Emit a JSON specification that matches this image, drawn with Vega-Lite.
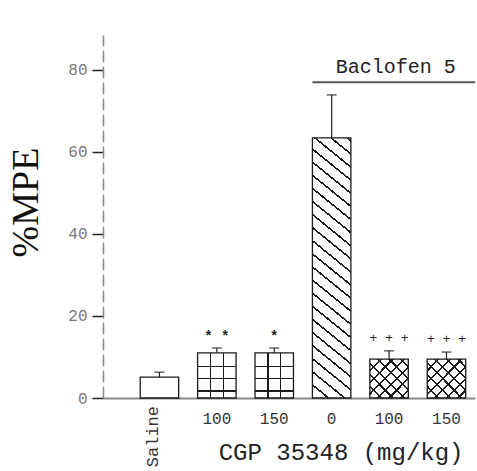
{
  "$schema": "https://vega.github.io/schema/vega-lite/v6.json",
  "width": 372,
  "height": 363,
  "autosize": "none",
  "padding": {"left": 103, "top": 35, "right": 2, "bottom": 73},
  "background": "white",
  "config": {"view": {"stroke": null}},
  "data": {
    "values": [
      {"key": "S", "label": "Saline", "group": "saline", "value": 5.1, "err": 6.3, "sig": ""},
      {"key": "C100", "label": "100", "group": "cgp", "value": 11.0, "err": 12.2, "sig": "* *"},
      {"key": "C150", "label": "150", "group": "cgp", "value": 11.0, "err": 12.2, "sig": "*"},
      {"key": "B0", "label": "0", "group": "baclofen", "value": 63.4, "err": 73.9, "sig": ""},
      {"key": "B100", "label": "100", "group": "baclofen_cgp", "value": 9.5, "err": 11.5, "sig": "+ + +"},
      {"key": "B150", "label": "150", "group": "baclofen_cgp", "value": 9.5, "err": 11.2, "sig": "+ + +"}
    ]
  },
  "encoding": {
    "x": {
      "field": "key",
      "type": "nominal",
      "sort": null,
      "scale": {"paddingInner": 0.33, "paddingOuter": 0.405, "align": 0.8},
      "axis": {
        "title": "CGP 35348 (mg/kg)",
        "titleFont": "Liberation Mono",
        "titleFontSize": 24,
        "titleFontWeight": "normal",
        "titleColor": "#222",
        "titleAnchor": "end",
        "titleX": 360,
        "titleY": 61,
        "titleBaseline": "alphabetic",
        "labelExpr": "datum.value == 'S' ? '' : slice(datum.value, 1)",
        "labelFont": "Liberation Mono",
        "labelFontSize": 16,
        "labelColor": "#333",
        "labelPadding": 12,
        "labelAngle": 0,
        "labelAlign": "center",
        "labelBaseline": "top",
        "ticks": false,
        "domainColor": "#888",
        "domainWidth": 2
      }
    },
    "y": {
      "field": "value",
      "type": "quantitative",
      "scale": {"domain": [0, 88.5], "nice": false},
      "axis": {
        "title": "%MPE",
        "titleFont": "Liberation Serif",
        "titleFontSize": 38,
        "titleFontWeight": "normal",
        "titleColor": "#111",
        "titleX": -77,
        "titleY": 167,
        "titleAngle": -90,
        "titleAlign": "center",
        "titleBaseline": "middle",
        "values": [0, 20, 40, 60, 80],
        "grid": false,
        "tickSize": 11,
        "tickWidth": 1.5,
        "tickColor": "#222",
        "labelFont": "Liberation Mono",
        "labelFontSize": 16,
        "labelColor": "#777",
        "labelPadding": 5,
        "domainColor": "#888",
        "domainWidth": 1.5,
        "domainDash": [12, 4],
        "encoding": {
          "ticks": {"update": {"x2": {"value": 11}}}
        }
      }
    }
  },
  "layer": [
    {"mark": {"type": "bar", "fill": "white", "stroke": "#1a1a1a", "strokeWidth": 1.3}},
    {
      "transform": [{"filter": "datum.group == 'cgp'"}],
      "mark": {"type": "bar", "strokeOpacity": 0, "fill": {"gradient": "linear", "x1": 0, "y1": 0, "x2": 0, "y2": 1, "stops": [
        {"offset": 0.284, "color": "rgba(0,0,0,0)"}, {"offset": 0.284, "color": "#1a1a1a"}, {"offset": 0.316, "color": "#1a1a1a"}, {"offset": 0.316, "color": "rgba(0,0,0,0)"},
        {"offset": 0.554, "color": "rgba(0,0,0,0)"}, {"offset": 0.554, "color": "#1a1a1a"}, {"offset": 0.586, "color": "#1a1a1a"}, {"offset": 0.586, "color": "rgba(0,0,0,0)"},
        {"offset": 0.824, "color": "rgba(0,0,0,0)"}, {"offset": 0.824, "color": "#1a1a1a"}, {"offset": 0.856, "color": "#1a1a1a"}, {"offset": 0.856, "color": "rgba(0,0,0,0)"}
      ]}}
    },
    {
      "transform": [{"filter": "datum.group == 'cgp'"}],
      "mark": {"type": "bar", "strokeOpacity": 0, "fill": {"gradient": "linear", "x1": 0, "y1": 0, "x2": 1, "y2": 0, "stops": [
        {"offset": 0.322, "color": "rgba(0,0,0,0)"}, {"offset": 0.322, "color": "#1a1a1a"}, {"offset": 0.358, "color": "#1a1a1a"}, {"offset": 0.358, "color": "rgba(0,0,0,0)"},
        {"offset": 0.652, "color": "rgba(0,0,0,0)"}, {"offset": 0.652, "color": "#1a1a1a"}, {"offset": 0.688, "color": "#1a1a1a"}, {"offset": 0.688, "color": "rgba(0,0,0,0)"}
      ]}}
    },
    {
      "transform": [{"filter": "datum.group == 'baclofen'"}],
      "mark": {"type": "bar", "strokeOpacity": 0, "fill": {"gradient": "linear", "x1": 0, "y1": 1, "x2": 0.1325, "y2": -0.104, "stops": [
        {"offset": 0.0415, "color": "rgba(0,0,0,0)"}, {"offset": 0.0415, "color": "#1a1a1a"}, {"offset": 0.0485, "color": "#1a1a1a"}, {"offset": 0.0485, "color": "rgba(0,0,0,0)"},
        {"offset": 0.0865, "color": "rgba(0,0,0,0)"}, {"offset": 0.0865, "color": "#1a1a1a"}, {"offset": 0.0935, "color": "#1a1a1a"}, {"offset": 0.0935, "color": "rgba(0,0,0,0)"},
        {"offset": 0.1315, "color": "rgba(0,0,0,0)"}, {"offset": 0.1315, "color": "#1a1a1a"}, {"offset": 0.1385, "color": "#1a1a1a"}, {"offset": 0.1385, "color": "rgba(0,0,0,0)"},
        {"offset": 0.1765, "color": "rgba(0,0,0,0)"}, {"offset": 0.1765, "color": "#1a1a1a"}, {"offset": 0.1835, "color": "#1a1a1a"}, {"offset": 0.1835, "color": "rgba(0,0,0,0)"},
        {"offset": 0.2215, "color": "rgba(0,0,0,0)"}, {"offset": 0.2215, "color": "#1a1a1a"}, {"offset": 0.2285, "color": "#1a1a1a"}, {"offset": 0.2285, "color": "rgba(0,0,0,0)"},
        {"offset": 0.2665, "color": "rgba(0,0,0,0)"}, {"offset": 0.2665, "color": "#1a1a1a"}, {"offset": 0.2735, "color": "#1a1a1a"}, {"offset": 0.2735, "color": "rgba(0,0,0,0)"},
        {"offset": 0.3115, "color": "rgba(0,0,0,0)"}, {"offset": 0.3115, "color": "#1a1a1a"}, {"offset": 0.3185, "color": "#1a1a1a"}, {"offset": 0.3185, "color": "rgba(0,0,0,0)"},
        {"offset": 0.3565, "color": "rgba(0,0,0,0)"}, {"offset": 0.3565, "color": "#1a1a1a"}, {"offset": 0.3635, "color": "#1a1a1a"}, {"offset": 0.3635, "color": "rgba(0,0,0,0)"},
        {"offset": 0.4015, "color": "rgba(0,0,0,0)"}, {"offset": 0.4015, "color": "#1a1a1a"}, {"offset": 0.4085, "color": "#1a1a1a"}, {"offset": 0.4085, "color": "rgba(0,0,0,0)"},
        {"offset": 0.4465, "color": "rgba(0,0,0,0)"}, {"offset": 0.4465, "color": "#1a1a1a"}, {"offset": 0.4535, "color": "#1a1a1a"}, {"offset": 0.4535, "color": "rgba(0,0,0,0)"},
        {"offset": 0.4915, "color": "rgba(0,0,0,0)"}, {"offset": 0.4915, "color": "#1a1a1a"}, {"offset": 0.4985, "color": "#1a1a1a"}, {"offset": 0.4985, "color": "rgba(0,0,0,0)"},
        {"offset": 0.5365, "color": "rgba(0,0,0,0)"}, {"offset": 0.5365, "color": "#1a1a1a"}, {"offset": 0.5435, "color": "#1a1a1a"}, {"offset": 0.5435, "color": "rgba(0,0,0,0)"},
        {"offset": 0.5815, "color": "rgba(0,0,0,0)"}, {"offset": 0.5815, "color": "#1a1a1a"}, {"offset": 0.5885, "color": "#1a1a1a"}, {"offset": 0.5885, "color": "rgba(0,0,0,0)"},
        {"offset": 0.6265, "color": "rgba(0,0,0,0)"}, {"offset": 0.6265, "color": "#1a1a1a"}, {"offset": 0.6335, "color": "#1a1a1a"}, {"offset": 0.6335, "color": "rgba(0,0,0,0)"},
        {"offset": 0.6715, "color": "rgba(0,0,0,0)"}, {"offset": 0.6715, "color": "#1a1a1a"}, {"offset": 0.6785, "color": "#1a1a1a"}, {"offset": 0.6785, "color": "rgba(0,0,0,0)"},
        {"offset": 0.7165, "color": "rgba(0,0,0,0)"}, {"offset": 0.7165, "color": "#1a1a1a"}, {"offset": 0.7235, "color": "#1a1a1a"}, {"offset": 0.7235, "color": "rgba(0,0,0,0)"},
        {"offset": 0.7615, "color": "rgba(0,0,0,0)"}, {"offset": 0.7615, "color": "#1a1a1a"}, {"offset": 0.7685, "color": "#1a1a1a"}, {"offset": 0.7685, "color": "rgba(0,0,0,0)"},
        {"offset": 0.8065, "color": "rgba(0,0,0,0)"}, {"offset": 0.8065, "color": "#1a1a1a"}, {"offset": 0.8135, "color": "#1a1a1a"}, {"offset": 0.8135, "color": "rgba(0,0,0,0)"},
        {"offset": 0.8515, "color": "rgba(0,0,0,0)"}, {"offset": 0.8515, "color": "#1a1a1a"}, {"offset": 0.8585, "color": "#1a1a1a"}, {"offset": 0.8585, "color": "rgba(0,0,0,0)"},
        {"offset": 0.8965, "color": "rgba(0,0,0,0)"}, {"offset": 0.8965, "color": "#1a1a1a"}, {"offset": 0.9035, "color": "#1a1a1a"}, {"offset": 0.9035, "color": "rgba(0,0,0,0)"},
        {"offset": 0.9415, "color": "rgba(0,0,0,0)"}, {"offset": 0.9415, "color": "#1a1a1a"}, {"offset": 0.9485, "color": "#1a1a1a"}, {"offset": 0.9485, "color": "rgba(0,0,0,0)"},
        {"offset": 0.9865, "color": "rgba(0,0,0,0)"}, {"offset": 0.9865, "color": "#1a1a1a"}, {"offset": 0.9935, "color": "#1a1a1a"}, {"offset": 0.9935, "color": "rgba(0,0,0,0)"}
      ]}}
    },
    {
      "transform": [{"filter": "datum.group == 'baclofen_cgp'"}],
      "mark": {"type": "bar", "strokeOpacity": 0, "fill": {"gradient": "linear", "x1": 0, "y1": 1, "x2": 1, "y2": 0, "stops": [
        {"offset": 0.136, "color": "rgba(0,0,0,0)"}, {"offset": 0.136, "color": "#1a1a1a"}, {"offset": 0.164, "color": "#1a1a1a"}, {"offset": 0.164, "color": "rgba(0,0,0,0)"},
        {"offset": 0.286, "color": "rgba(0,0,0,0)"}, {"offset": 0.286, "color": "#1a1a1a"}, {"offset": 0.314, "color": "#1a1a1a"}, {"offset": 0.314, "color": "rgba(0,0,0,0)"},
        {"offset": 0.436, "color": "rgba(0,0,0,0)"}, {"offset": 0.436, "color": "#1a1a1a"}, {"offset": 0.464, "color": "#1a1a1a"}, {"offset": 0.464, "color": "rgba(0,0,0,0)"},
        {"offset": 0.586, "color": "rgba(0,0,0,0)"}, {"offset": 0.586, "color": "#1a1a1a"}, {"offset": 0.614, "color": "#1a1a1a"}, {"offset": 0.614, "color": "rgba(0,0,0,0)"},
        {"offset": 0.736, "color": "rgba(0,0,0,0)"}, {"offset": 0.736, "color": "#1a1a1a"}, {"offset": 0.764, "color": "#1a1a1a"}, {"offset": 0.764, "color": "rgba(0,0,0,0)"},
        {"offset": 0.886, "color": "rgba(0,0,0,0)"}, {"offset": 0.886, "color": "#1a1a1a"}, {"offset": 0.914, "color": "#1a1a1a"}, {"offset": 0.914, "color": "rgba(0,0,0,0)"}
      ]}}
    },
    {
      "transform": [{"filter": "datum.group == 'baclofen_cgp'"}],
      "mark": {"type": "bar", "strokeOpacity": 0, "fill": {"gradient": "linear", "x1": 0, "y1": 0, "x2": 1, "y2": 1, "stops": [
        {"offset": 0.136, "color": "rgba(0,0,0,0)"}, {"offset": 0.136, "color": "#1a1a1a"}, {"offset": 0.164, "color": "#1a1a1a"}, {"offset": 0.164, "color": "rgba(0,0,0,0)"},
        {"offset": 0.286, "color": "rgba(0,0,0,0)"}, {"offset": 0.286, "color": "#1a1a1a"}, {"offset": 0.314, "color": "#1a1a1a"}, {"offset": 0.314, "color": "rgba(0,0,0,0)"},
        {"offset": 0.436, "color": "rgba(0,0,0,0)"}, {"offset": 0.436, "color": "#1a1a1a"}, {"offset": 0.464, "color": "#1a1a1a"}, {"offset": 0.464, "color": "rgba(0,0,0,0)"},
        {"offset": 0.586, "color": "rgba(0,0,0,0)"}, {"offset": 0.586, "color": "#1a1a1a"}, {"offset": 0.614, "color": "#1a1a1a"}, {"offset": 0.614, "color": "rgba(0,0,0,0)"},
        {"offset": 0.736, "color": "rgba(0,0,0,0)"}, {"offset": 0.736, "color": "#1a1a1a"}, {"offset": 0.764, "color": "#1a1a1a"}, {"offset": 0.764, "color": "rgba(0,0,0,0)"},
        {"offset": 0.886, "color": "rgba(0,0,0,0)"}, {"offset": 0.886, "color": "#1a1a1a"}, {"offset": 0.914, "color": "#1a1a1a"}, {"offset": 0.914, "color": "rgba(0,0,0,0)"}
      ]}}
    },
    {
      "mark": {"type": "rule", "color": "#222", "strokeWidth": 1.2},
      "encoding": {"y": {"field": "value", "type": "quantitative"}, "y2": {"field": "err"}}
    },
    {
      "mark": {"type": "tick", "color": "#222", "thickness": 1.5, "size": 10},
      "encoding": {"y": {"field": "err", "type": "quantitative"}}
    },
    {
      "transform": [{"filter": "datum.group == 'cgp'"}],
      "mark": {"type": "text", "font": "Liberation Mono", "fontSize": 14, "fontWeight": "bold", "baseline": "alphabetic", "dy": -7, "color": "#222"},
      "encoding": {"y": {"field": "err", "type": "quantitative"}, "text": {"field": "sig"}}
    },
    {
      "transform": [{"filter": "datum.group == 'baclofen_cgp'"}],
      "mark": {"type": "text", "font": "Liberation Mono", "fontSize": 13, "baseline": "alphabetic", "dy": -9, "color": "#222"},
      "encoding": {"y": {"field": "err", "type": "quantitative"}, "text": {"field": "sig"}}
    },
    {
      "transform": [{"filter": "datum.group == 'saline'"}],
      "mark": {"type": "text", "font": "Liberation Mono", "fontSize": 17, "angle": 270, "align": "right", "baseline": "middle", "dx": -8, "dy": -6, "color": "#333"},
      "encoding": {"y": {"datum": 0}, "text": {"field": "label"}}
    },
    {
      "data": {"values": [{"label": "Baclofen 5", "key": "B0", "level": 77}]},
      "mark": {"type": "rule", "color": "#555", "strokeWidth": 2},
      "encoding": {
        "x": {"field": "key", "type": "nominal", "bandPosition": 0},
        "x2": {"value": "width"},
        "y": {"field": "level", "type": "quantitative"}
      }
    },
    {
      "data": {"values": [{"label": "Baclofen 5", "key": "B0", "level": 77}]},
      "mark": {"type": "text", "font": "Liberation Mono", "fontSize": 20, "align": "left", "baseline": "alphabetic", "dx": 4, "dy": -9, "color": "#222"},
      "encoding": {
        "x": {"field": "key", "type": "nominal"},
        "y": {"field": "level", "type": "quantitative"},
        "text": {"field": "label"}
      }
    }
  ]
}
